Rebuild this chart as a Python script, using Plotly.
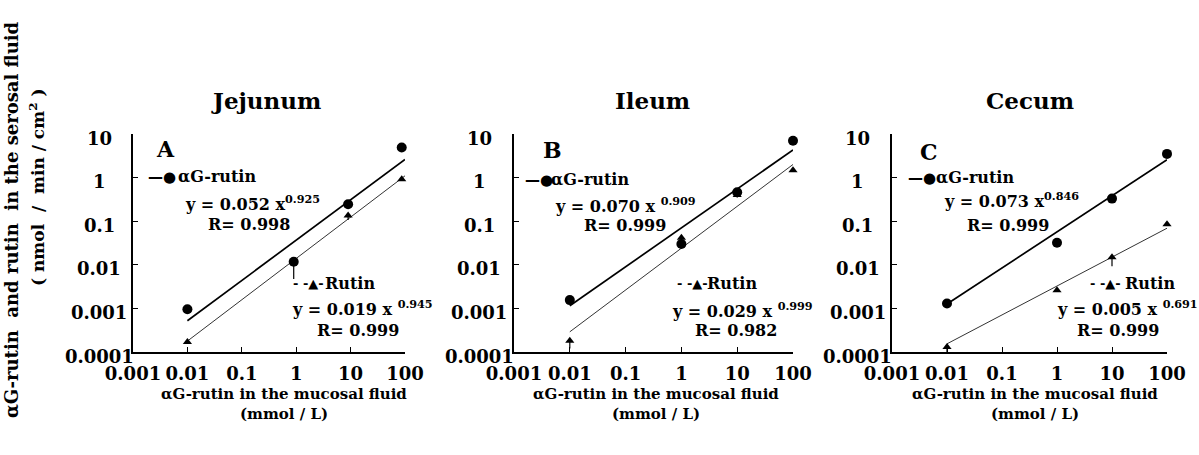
import numpy as np
import plotly.graph_objects as go

W, H = 1199, 455

# ---------------- data ----------------
x_ticks = [0.001, 0.01, 0.1, 1, 10, 100]
x_tick_text = ["0.001", "0.01", "0.1", "1", "10", "100"]
y_ticks = [0.0001, 0.001, 0.01, 0.1, 1, 10]
y_tick_text = ["0.0001", "0.001", "0.01", "0.1", "1", "10"]

panel_titles = ["Jejunum", "Ileum", "Cecum"]
panel_letters = ["A", "B", "C"]

# Jejunum (A)
jej_x = [0.01, 0.9, 9, 87]
jej_ag = [0.00096, 0.0117, 0.244, 4.9]
jej_ag_err = [0, 0.007, 0, 0]
jej_ru = [0.00017, 0.0115, 0.136, 0.92]
jej_ru_err = [0, 0, 0.03, 0]
jej_fit_x = [0.01, 100]
jej_ag_fit = [0.00052, 2.6]
jej_ru_fit = [0.000178, 1.1]

# Ileum (B)
ile_x = [0.01, 1, 10, 100]
ile_ag = [0.00155, 0.030, 0.46, 7.0]
ile_ag_err = [0.0002, 0, 0, 0]
ile_ru = [0.00018, 0.042, 0.40, 1.47]
ile_ru_err = [0.00006, 0.006, 0.05, 0]
ile_fit_x = [0.01, 100]
ile_ag_fit = [0.00115, 4.3]
ile_ru_fit = [0.00029, 2.0]

# Cecum (C)
cec_x = [0.01, 1, 10, 100]
cec_ag = [0.0013, 0.032, 0.33, 3.5]
cec_ag_err = [0.0002, 0, 0, 0]
cec_ru = [0.00013, 0.0026, 0.0149, 0.085]
cec_ru_err = [0.00003, 0, 0.0056, 0]
cec_fit_x = [0.01, 100]
cec_ag_fit = [0.00126, 2.57]
cec_ru_fit = [0.000154, 0.069]

ag_eq = ["y = 0.052 x<sup>0.925</sup>", "y = 0.070 x <sup>0.909</sup>", "y = 0.073 x<sup>0.846</sup>"]
ag_r = ["R= 0.998", "R= 0.999", "R= 0.999"]
ru_eq = ["y = 0.019 x <sup>0.945</sup>", "y = 0.029 x <sup>0.999</sup>", "y = 0.005 x <sup>0.691</sup>"]
ru_r = ["R= 0.999", "R= 0.982", "R= 0.999"]

x_title = "αG-rutin in the mucosal fluid"
x_unit = "(mmol / L)"
y_title = "αG-rutin  and rutin  in the serosal fluid"
y_unit = "( nmol  /  min / cm<sup>2</sup> )"

panels = [
    (jej_x, jej_ag, jej_ag_err, jej_ru, jej_ru_err, jej_fit_x, jej_ag_fit, jej_ru_fit),
    (ile_x, ile_ag, ile_ag_err, ile_ru, ile_ru_err, ile_fit_x, ile_ag_fit, ile_ru_fit),
    (cec_x, cec_ag, cec_ag_err, cec_ru, cec_ru_err, cec_fit_x, cec_ag_fit, cec_ru_fit),
]

# ---------------- layout geometry ----------------
FONT = "DejaVu Serif"
def px(x):
    return x / W
def py(y):
    return 1 - y / H

x_domains = [(133, 405), (514, 793), (892, 1167)]
y_domain = [py(352), py(134)]

fig = go.Figure()
for i, (xs, ag, agerr, ru, ruerr, fx, agf, ruf) in enumerate(panels):
    xa = "x" if i == 0 else f"x{i+1}"
    ya = "y" if i == 0 else f"y{i+1}"
    fig.add_trace(go.Scatter(x=fx, y=agf, mode="lines", xaxis=xa, yaxis=ya,
                             line=dict(color="black", width=1.7), showlegend=False))
    fig.add_trace(go.Scatter(x=fx, y=ruf, mode="lines", xaxis=xa, yaxis=ya,
                             line=dict(color="#333333", width=1), showlegend=False))
    fig.add_trace(go.Scatter(x=xs, y=ru, mode="markers", xaxis=xa, yaxis=ya, cliponaxis=False,
                             marker=dict(symbol="triangle-up", size=8, color="black"),
                             error_y=dict(type="data", symmetric=False, array=[0]*len(ru),
                                          arrayminus=ruerr, color="black", thickness=1.2, width=0),
                             showlegend=False))
    fig.add_trace(go.Scatter(x=xs, y=ag, mode="markers", xaxis=xa, yaxis=ya, cliponaxis=False,
                             marker=dict(symbol="circle", size=10, color="black"),
                             error_y=dict(type="data", symmetric=False, array=[0]*len(ag),
                                          arrayminus=agerr, color="black", thickness=1.2, width=0),
                             showlegend=False))

axis_common = dict(showline=True, linecolor="black", linewidth=1.5, ticks="inside",
                   ticklen=5, tickwidth=1.2, tickcolor="black", showgrid=False,
                   zeroline=False, mirror=False, automargin=False)
layout_axes = {}
for i in range(3):
    xkey = "xaxis" if i == 0 else f"xaxis{i+1}"
    ykey = "yaxis" if i == 0 else f"yaxis{i+1}"
    ya = "y" if i == 0 else f"y{i+1}"
    xa = "x" if i == 0 else f"x{i+1}"
    layout_axes[xkey] = dict(type="log", range=[-3, 2], domain=[px(x_domains[i][0]), px(x_domains[i][1])],
                             anchor=ya, tickvals=x_ticks, ticktext=x_tick_text,
                             tickfont=dict(family=FONT, size=18, color="black", weight="bold"),
                             ticklabelstandoff=5, **axis_common)
    layout_axes[ykey] = dict(type="log", range=[-4, 1], domain=y_domain, anchor=xa,
                             tickvals=y_ticks, showticklabels=False, **axis_common)

annotations = []
def txt(x, y, text, size=16, xanchor="left", family=FONT, **kw):
    d = dict(x=px(x), y=py(y), xref="paper", yref="paper", text=text, showarrow=False,
             xanchor=xanchor, yanchor="middle",
             font=dict(family=family, size=size, color="black", weight="bold"))
    d.update(kw)
    annotations.append(d)

# y tick labels (centred, as in the original)
for i in range(3):
    xr = "x domain" if i == 0 else f"x{i+1} domain"
    yr = "y" if i == 0 else f"y{i+1}"
    for v, t in zip(y_ticks, y_tick_text):
        annotations.append(dict(x=-0.125, y=np.log10(v), xref=xr, yref=yr, text=t,
                                showarrow=False, xanchor="center", yanchor="middle", yshift=-4,
                                font=dict(family=FONT, size=18, color="black", weight="bold")))

# panel titles
for cx, t in zip([266, 652, 1030], panel_titles):
    txt(cx, 100, t, size=23, xanchor="center")

# panel letters
for lx, ly, t in zip([154, 541, 918], [149, 150, 152], panel_letters):
    txt(lx, ly, t, size=22)

# in-panel legend & equations
sym_ag_pos = [(146, 177), (523, 180), (906, 178)]
txt_ag_pos = [(176, 177), (549, 180), (934, 178)]
eq_ag_pos = [(183, 203), (553, 205), (942, 200)]
r_ag_pos = [(206, 224), (582, 225), (965, 225)]
sym_ru_pos = [(291, 283), (675, 283), (1088, 283)]
txt_ru_pos = [(323, 283), (705, 283), (1123, 283)]
eq_ru_pos = [(290, 308), (670, 310), (1055, 308)]
r_ru_pos = [(315, 330), (693, 330), (1075, 330)]
for i in range(3):
    txt(*sym_ag_pos[i], "—●", size=15, family="DejaVu Sans")
    txt(*txt_ag_pos[i], "αG-rutin", size=16)
    txt(*eq_ag_pos[i], ag_eq[i], size=16)
    txt(*r_ag_pos[i], ag_r[i], size=16)
    txt(*sym_ru_pos[i], "- -▲-", size=13, family="DejaVu Sans")
    txt(*txt_ru_pos[i], "Rutin", size=16)
    txt(*eq_ru_pos[i], ru_eq[i], size=16)
    txt(*r_ru_pos[i], ru_r[i], size=16)

# x-axis titles
for cx in [284, 656, 1035]:
    txt(cx, 394, x_title, size=15, xanchor="center")
    txt(cx, 414, x_unit, size=15, xanchor="center")

# y-axis title (two rotated lines)
txt(11, 220, y_title, size=18, xanchor="center", textangle=-90)
txt(37, 188, y_unit, size=17, xanchor="center", textangle=-90)

fig.update_layout(width=W, height=H, margin=dict(l=0, r=0, t=0, b=0, autoexpand=False),
                  paper_bgcolor="white", plot_bgcolor="white",
                  font=dict(family=FONT, color="black", weight="bold"),
                  annotations=annotations, showlegend=False, **layout_axes)

fig.write_html("out.html", config={"displayModeBar": False},
               post_script="document.body.style.margin='0';")
